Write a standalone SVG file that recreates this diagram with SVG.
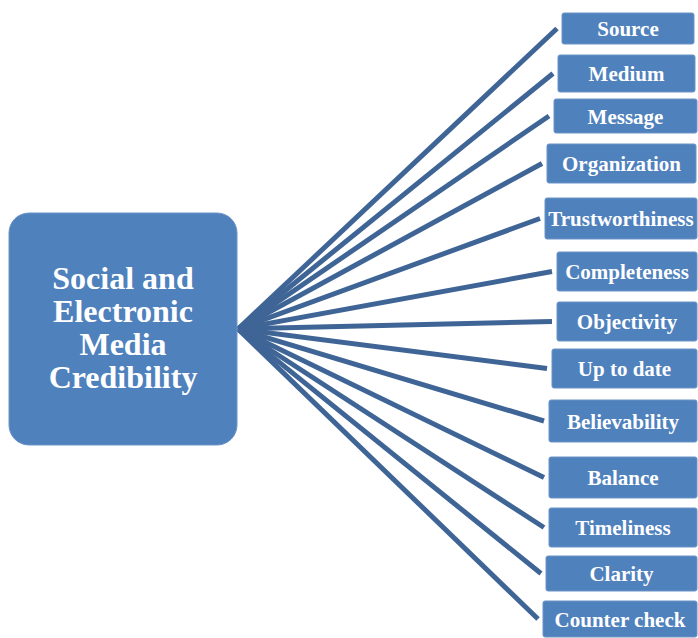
<svg xmlns="http://www.w3.org/2000/svg" width="698" height="638" viewBox="0 0 698 638">
<style>
.box{fill:#4f81bd;stroke:#6d93c6;stroke-width:1}
.lbl{font-family:"Liberation Serif","Times New Roman",serif;font-weight:bold;font-size:21px;fill:#ffffff;text-anchor:middle}
.title{font-family:"Liberation Serif","Times New Roman",serif;font-weight:bold;font-size:32px;fill:#ffffff;text-anchor:middle}
.conn line{stroke:#3f6596;stroke-width:5;stroke-linecap:butt}
</style>
<rect width="698" height="638" fill="#ffffff"/>
<g id="connectors" class="conn">
<line x1="238" y1="329" x2="557" y2="28.5"/>
<line x1="238" y1="329" x2="553" y2="73.5"/>
<line x1="238" y1="329" x2="549" y2="116"/>
<line x1="238" y1="329" x2="542" y2="163.5"/>
<line x1="238" y1="329" x2="540" y2="218.5"/>
<line x1="238" y1="329" x2="552" y2="271.5"/>
<line x1="238" y1="329" x2="552" y2="321.5"/>
<line x1="238" y1="329" x2="547" y2="368.5"/>
<line x1="238" y1="329" x2="544" y2="421"/>
<line x1="238" y1="329" x2="544" y2="477.5"/>
<line x1="238" y1="329" x2="544" y2="527.5"/>
<line x1="238" y1="329" x2="541" y2="573.5"/>
<line x1="238" y1="329" x2="538" y2="619"/>
</g>
<g id="root">
<rect class="box" x="9" y="213" width="228" height="232" rx="20"/>
<text class="title" x="123" y="289">Social and</text>
<text class="title" x="123" y="322">Electronic</text>
<text class="title" x="123" y="355">Media</text>
<text class="title" x="123" y="388">Credibility</text>
</g>
<g id="source"><rect class="box" x="562" y="13" width="132" height="31" rx="2"/><text class="lbl" x="628" y="35.5">Source</text></g>
<g id="medium"><rect class="box" x="558" y="55" width="137" height="37" rx="2"/><text class="lbl" x="626.5" y="80.5">Medium</text></g>
<g id="message"><rect class="box" x="554" y="99" width="143" height="34" rx="2"/><text class="lbl" x="625.5" y="123.5">Message</text></g>
<g id="organization"><rect class="box" x="547" y="144" width="149" height="39" rx="2"/><text class="lbl" x="621.5" y="170.5">Organization</text></g>
<g id="trustworthiness"><rect class="box" x="545" y="198" width="152" height="41" rx="2"/><text class="lbl" x="621" y="225.5">Trustworthiness</text></g>
<g id="completeness"><rect class="box" x="557" y="252" width="140" height="39" rx="2"/><text class="lbl" x="627" y="278.5">Completeness</text></g>
<g id="objectivity"><rect class="box" x="557" y="302" width="140" height="39" rx="2"/><text class="lbl" x="627" y="328.5">Objectivity</text></g>
<g id="uptodate"><rect class="box" x="552" y="349" width="145" height="39" rx="2"/><text class="lbl" x="624.5" y="375.5">Up to date</text></g>
<g id="believability"><rect class="box" x="549" y="400" width="148" height="42" rx="2"/><text class="lbl" x="623" y="428.5">Believability</text></g>
<g id="balance"><rect class="box" x="549" y="457" width="148" height="41" rx="2"/><text class="lbl" x="623" y="484.5">Balance</text></g>
<g id="timeliness"><rect class="box" x="549" y="508" width="148" height="39" rx="2"/><text class="lbl" x="623" y="534.5">Timeliness</text></g>
<g id="clarity"><rect class="box" x="546" y="556" width="151" height="35" rx="2"/><text class="lbl" x="621.5" y="580.5">Clarity</text></g>
<g id="countercheck"><rect class="box" x="543" y="601" width="154" height="36" rx="2"/><text class="lbl" x="620" y="626.5">Counter check</text></g>
</svg>
